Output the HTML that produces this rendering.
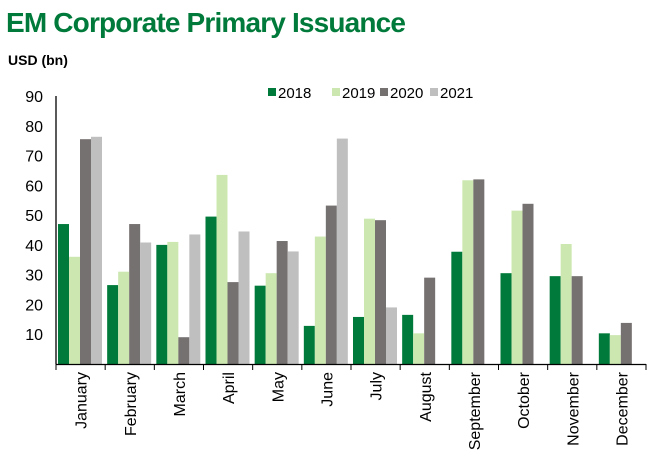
<!DOCTYPE html>
<html><head><meta charset="utf-8"><style>
body{margin:0;background:#fff;font-family:"Liberation Sans",Arial,sans-serif;}
#wrap{position:relative;width:659px;height:472px;overflow:hidden}
</style></head><body>
<div id="wrap">
<svg id="chart" width="659" height="472" xmlns="http://www.w3.org/2000/svg">
<text x="6" y="32" font-size="28" font-weight="bold" fill="#007a3a" textLength="400">EM Corporate Primary Issuance</text>
<text x="8" y="65" font-size="14" font-weight="bold" fill="#000">USD (bn)</text>
<g id="legend"></g>
<g id="bars"></g>
<g id="axes"></g>
</svg>
</div>
<script>
const months=["January","February","March","April","May","June","July","August","September","October","November","December"];
const s2018=[47,26.5,40,49.5,26.3,12.8,15.8,16.5,37.7,30.5,29.5,10.3];
const s2019=[36,31,41,63.5,30.5,42.8,48.8,10.3,61.7,51.5,40.3,9.7];
const s2020=[75.5,47,9,27.5,41.3,53.2,48.3,29,62,53.8,29.5,13.8];
const s2021=[76.3,40.8,43.5,44.5,37.8,75.7,19,null,null,null,null,null];
const yTicks=[10,20,30,40,50,60,70,80,90];
const seriesNames=["2018","2019","2020","2021"];
const colors=["#007a3a","#cce8b0","#767171","#bfbfbf"];
const NS="http://www.w3.org/2000/svg";
const x0=56,x1=646,yBase=364,yTop=96,yMax=90;
const gw=(x1-x0)/months.length;
const y=v=>yBase-(v/yMax)*(yBase-yTop);
const bars=document.getElementById('bars'),axes=document.getElementById('axes'),legend=document.getElementById('legend');
function mk(t,a){const e=document.createElementNS(NS,t);for(const k in a)e.setAttribute(k,a[k]);return e;}
const all=[s2018,s2019,s2020,s2021];
const bw=11;
months.forEach((m,i)=>{
  all.forEach((s,j)=>{
    const v=s[i]; if(v==null)return;
    const r=mk('rect',{x:x0+i*gw+2+j*bw,y:y(v),width:bw,height:yBase-y(v),fill:colors[j]});
    
    
    bars.appendChild(r);
  });
  const cx=x0+(i+0.5)*gw;
  const t=mk('text',{x:0,y:0,'font-size':16,'text-anchor':'end',transform:`translate(${cx+6},372) rotate(-90)`});
  t.textContent=m;
  
  
  axes.appendChild(t);
});
for(let i=0;i<=months.length;i++){
  const l=mk('line',{x1:x0+i*gw,x2:x0+i*gw,y1:yBase,y2:yBase+6,stroke:'#000','stroke-width':1});
  
  
  axes.appendChild(l);
}
const xa=mk('line',{x1:x0,x2:x1,y1:yBase+0.5,y2:yBase+0.5,stroke:'#000','stroke-width':1.3});


axes.appendChild(xa);
const ya=mk('line',{x1:x0,x2:x0,y1:yTop,y2:yBase,stroke:'#000','stroke-width':1.3});


axes.appendChild(ya);
yTicks.forEach(v=>{
  const t=mk('text',{x:43,y:y(v)+6,'font-size':16,'text-anchor':'end'});
  t.textContent=v;
  
  
  axes.appendChild(t);
});
const lx=[268,332,380,430];
seriesNames.forEach((n,j)=>{
  const g=mk('g',{});
  
  
  g.appendChild(mk('rect',{x:lx[j],y:88,width:8,height:8,fill:colors[j]}));
  const t=mk('text',{x:lx[j]+10,y:98,'font-size':15});
  t.textContent=n;
  g.appendChild(t);
  legend.appendChild(g);
});
</script>
</body></html>
